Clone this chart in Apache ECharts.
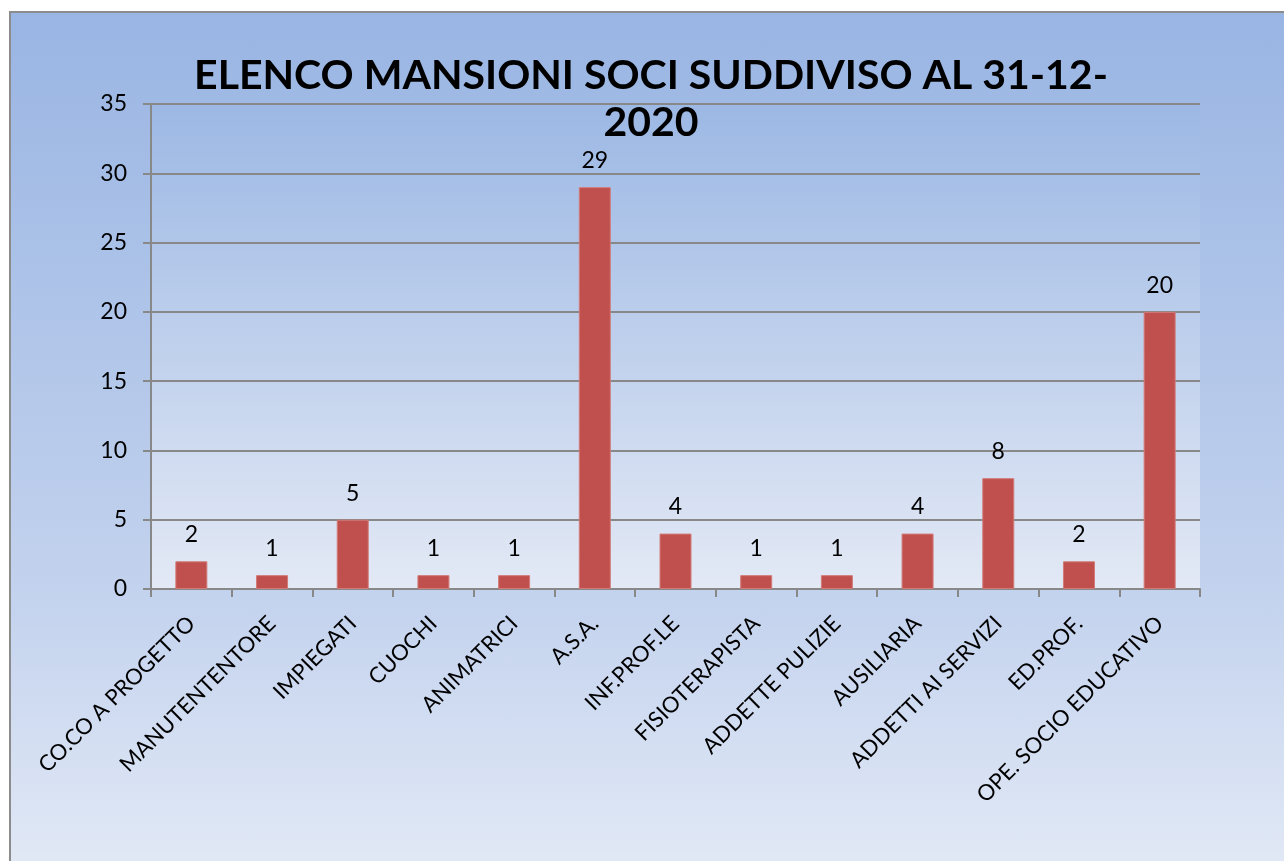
<!DOCTYPE html>
<html>
<head>
<meta charset="utf-8">
<script src="https://cdn.jsdelivr.net/npm/echarts@6/dist/echarts.min.js"></script>
<style>
html,body{margin:0;padding:0;background:#fff;overflow:hidden;}
#frame{position:absolute;left:9px;top:11px;width:1300px;height:870px;border:2px solid #8c8c8c;
background:linear-gradient(to bottom,#99b5e3 0%,#c4d3ee 68%,#e3eaf6 100%);}
#main{position:absolute;left:0;top:0;width:1284px;height:861px;}
</style>
</head>
<body>
<div id="frame"></div>
<div id="main"></div>
<script>
const categories = ['CO.CO A PROGETTO','MANUTENTENTORE','IMPIEGATI','CUOCHI','ANIMATRICI','A.S.A.','INF.PROF.LE','FISIOTERAPISTA','ADDETTE PULIZIE','AUSILIARIA','ADDETTI AI SERVIZI','ED.PROF.','OPE. SOCIO EDUCATIVO'];
const values = [2,1,5,1,1,29,4,1,1,4,8,2,20];
const titleText = 'ELENCO MANSIONI SOCI SUDDIVISO AL 31-12-\n2020';
const FONT = 'Lato';

const chart = echarts.init(document.getElementById('main'), null, {renderer:'canvas'});
chart.setOption({
  backgroundColor: 'transparent',
  animation: false,
  title: {
    text: titleText,
    left: 651,
    top: 52,
    textAlign: 'center',
    padding: 0,
    textStyle: {fontFamily: FONT, fontWeight: 'bold', fontSize: 41, color: '#000', lineHeight: 47}
  },
  grid: {
    left: 151, right: 84, top: 104, bottom: 272,
    show: true, borderWidth: 0,
    backgroundColor: new echarts.graphic.LinearGradient(0,0,0,1,[
      {offset:0,color:'#9cb8e4'},{offset:1,color:'#e3e9f5'}
    ])
  },
  xAxis: {
    type: 'category',
    data: categories,
    axisLine: {show:true, lineStyle:{color:'#888', width:2}},
    axisTick: {show:true, length:8, lineStyle:{color:'#888', width:2}},
    axisLabel: {rotate:45, interval:0, margin:31, fontFamily:FONT, fontSize:22, color:'#000'},
    splitLine: {show:false}
  },
  yAxis: {
    type: 'value',
    min: 0, max: 35, interval: 5,
    axisLine: {show:true, lineStyle:{color:'#888', width:2}},
    axisTick: {show:true, length:8, lineStyle:{color:'#888', width:2}},
    axisLabel: {margin:24, fontFamily:FONT, fontSize:23, color:'#000'},
    splitLine: {show:true, lineStyle:{color:'#888', width:2}}
  },
  series: [{
    type: 'bar',
    data: values,
    barWidth: 32,
    itemStyle: {color:'#c0504d', borderColor:'#d27b79', borderWidth:1},
    label: {show:true, position:'top', distance:15, fontFamily:FONT, fontSize:23, color:'#000'}
  }]
});
</script>
</body>
</html>
